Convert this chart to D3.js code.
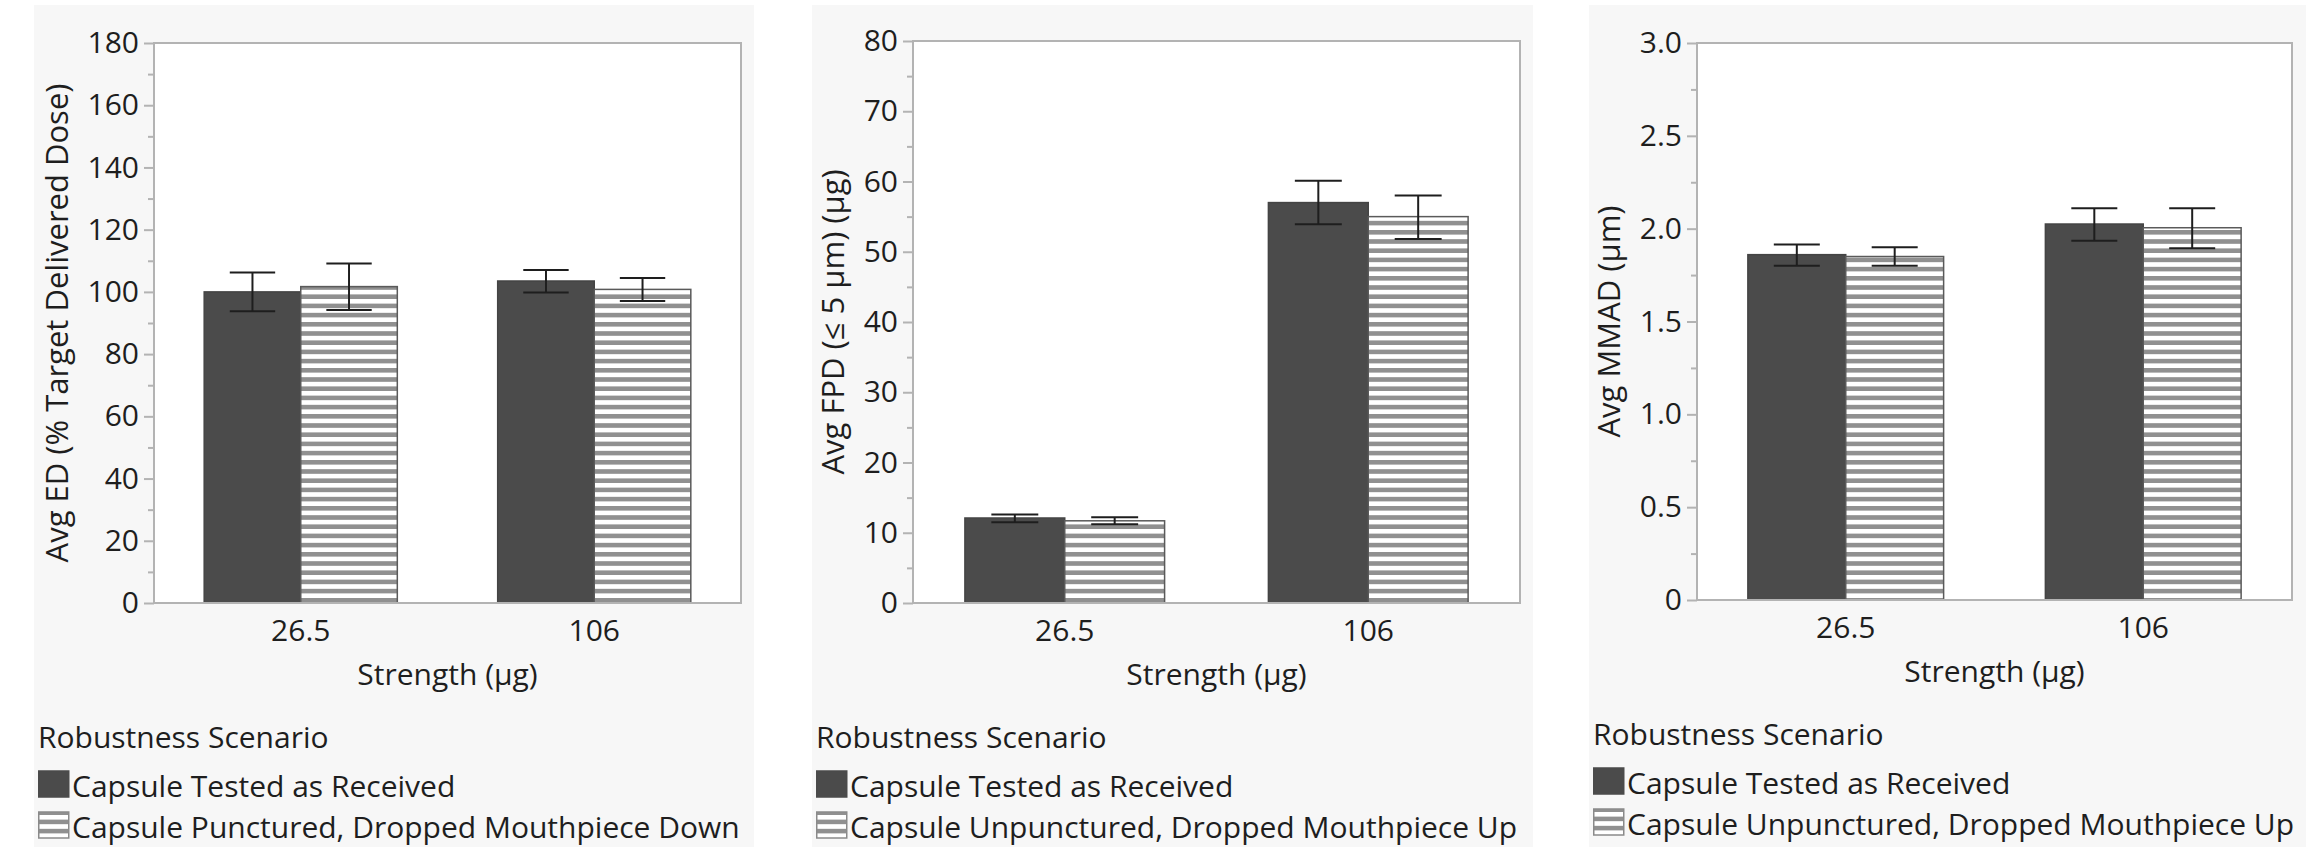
<!DOCTYPE html>
<html>
<head>
<meta charset="utf-8">
<script src="https://cdn.jsdelivr.net/npm/d3@7"></script>
<style>
	body { margin: 0; background: #ffffff; }
	svg { display: block; }
	text { font-family: "Open Sans", "Noto Sans", sans-serif; fill: #1e1e1e; }
</style>
</head>
<body>
<svg width="2306" height="847"></svg>
<script>
var strengths = ["26.5", "106"];
var scenariosDown = ["Capsule Tested as Received", "Capsule Punctured, Dropped Mouthpiece Down"];
var scenariosUp = ["Capsule Tested as Received", "Capsule Unpunctured, Dropped Mouthpiece Up"];

// one inner array per scenario, one value per strength
var edAvg = [[100.0, 103.5], [101.7, 100.8]];
var edLow = [[93.8, 99.8], [94.2, 97.1]];
var edHigh = [[106.2, 107.0], [109.1, 104.5]];
var edTicks = [0, 20, 40, 60, 80, 100, 120, 140, 160, 180];
var edMinor = [10, 30, 50, 70, 90, 110, 130, 150, 170];

var fpdAvg = [[12.1, 57.0], [11.7, 55.0]];
var fpdLow = [[11.5, 53.9], [11.2, 51.8]];
var fpdHigh = [[12.6, 60.1], [12.2, 58.0]];
var fpdTicks = [0, 10, 20, 30, 40, 50, 60, 70, 80];
var fpdMinor = [5, 15, 25, 35, 45, 55, 65, 75];

var mmadAvg = [[1.86, 2.025], [1.85, 2.005]];
var mmadLow = [[1.80, 1.935], [1.80, 1.895]];
var mmadHigh = [[1.915, 2.11], [1.90, 2.11]];
var mmadTicks = [0, 0.5, 1.0, 1.5, 2.0, 2.5, 3.0];
var mmadMinor = [0.25, 0.75, 1.25, 1.75, 2.25, 2.75];

var DARK = "#4b4b4b";
var STRIPE = "#909090";
var FRAME = "#b3b3b3";

var panels = [
	{ avg: edAvg, low: edLow, high: edHigh, ticks: edTicks, minor: edMinor, max: 180,
	  title: "Avg ED (% Target Delivered Dose)", legend: scenariosDown,
	  bg: [34, 754], x: [154, 741], y: [43, 603], titleX: 68 },
	{ avg: fpdAvg, low: fpdLow, high: fpdHigh, ticks: fpdTicks, minor: fpdMinor, max: 80,
	  title: "Avg FPD (\u2264 5 \u00b5m) (\u00b5g)", legend: scenariosUp,
	  bg: [812, 1533], x: [913, 1520], y: [41, 603], titleX: 844 },
	{ avg: mmadAvg, low: mmadLow, high: mmadHigh, ticks: mmadTicks, minor: mmadMinor, max: 3,
	  title: "Avg MMAD (\u00b5m)", legend: scenariosUp,
	  bg: [1589, 2306], x: [1697, 2292], y: [43, 600], titleX: 1620 }
];

var svg = d3.select("svg");

var defs = svg.append("defs");
var pattern = defs.append("pattern")
	.attr("id", "stripes")
	.attr("patternUnits", "userSpaceOnUse")
	.attr("width", 8)
	.attr("height", 9.2);
pattern.append("rect")
	.attr("width", 8)
	.attr("height", 9.2)
	.attr("fill", "#ffffff");
pattern.append("rect")
	.attr("y", 0)
	.attr("width", 8)
	.attr("height", 4.6)
	.attr("fill", STRIPE);

panels.forEach(function(p) { drawPanel(p); });

function drawPanel(p) {
	var g = svg.append("g");

	// panel background
	g.append("rect")
		.attr("x", p.bg[0])
		.attr("y", 5)
		.attr("width", p.bg[1] - p.bg[0])
		.attr("height", 847 - 5)
		.attr("fill", "#f7f7f7");

	g.append("rect")
		.attr("x", p.x[0])
		.attr("y", p.y[0])
		.attr("width", p.x[1] - p.x[0])
		.attr("height", p.y[1] - p.y[0])
		.attr("fill", "#ffffff");

	var x0 = d3.scaleBand()
		.domain(strengths)
		.range(p.x)
		.paddingInner(0.342)
		.paddingOuter(0.171);

	var x1 = d3.scaleBand()
		.domain([0, 1])
		.range([0, x0.bandwidth()]);

	var y = d3.scaleLinear()
		.domain([0, p.max])
		.range([p.y[1], p.y[0]]);

	var fmt = function(d) { return d === 0 ? "0" : (p.max < 10 ? d3.format(".1f")(d) : d); };

	// minor ticks
	var minorAxis = g.append("g")
		.attr("transform", "translate(" + p.x[0] + ",0)")
		.call(d3.axisLeft(y).tickValues(p.minor).tickSize(6).tickFormat(""));
	minorAxis.select(".domain").remove();

	var yAxis = g.append("g")
		.attr("transform", "translate(" + p.x[0] + ",0)")
		.call(d3.axisLeft(y).tickValues(p.ticks).tickSize(10).tickPadding(5).tickFormat(fmt));
	yAxis.select(".domain").remove();
	yAxis.selectAll("text")
		.style("font-size", "30px")
		.attr("fill", "#1e1e1e");

	g.selectAll(".tick line")
		.attr("stroke", FRAME)
		.attr("stroke-width", 2);

	var xAxis = g.append("g")
		.attr("transform", "translate(0," + p.y[1] + ")")
		.call(d3.axisBottom(x0).tickSize(0).tickPadding(17));
	xAxis.select(".domain").remove();
	xAxis.selectAll("text")
		.style("font-size", "30px")
		.attr("fill", "#1e1e1e");

	// bars
	var groups = g.selectAll(".strength")
		.data(strengths)
		.enter().append("g")
		.attr("class", "strength")
		.attr("transform", function(d) { return "translate(" + x0(d) + ",0)"; });

	groups.selectAll("rect")
		.data(function(d, i) { return [0, 1].map(function(s) { return { s: s, v: p.avg[s][i] }; }); })
		.enter().append("rect")
		.attr("x", function(d) { return x1(d.s); })
		.attr("y", function(d) { return y(d.v); })
		.attr("width", x1.bandwidth())
		.attr("height", function(d) { return y(0) - y(d.v); })
		.attr("fill", function(d) { return d.s === 0 ? DARK : "url(#stripes)"; })
		.attr("stroke", function(d) { return d.s === 0 ? "#444444" : "#5a5a5a"; })
		.attr("stroke-width", 1.5);

	// error bars
	var capHalf = x1.bandwidth() * 0.235;
	var errs = groups.selectAll(".err")
		.data(function(d, i) { return [0, 1].map(function(s) { return { s: s, lo: p.low[s][i], hi: p.high[s][i] }; }); })
		.enter().append("g")
		.attr("class", "err")
		.attr("transform", function(d) { return "translate(" + (x1(d.s) + x1.bandwidth() / 2) + ",0)"; });

	errs.append("line")
		.attr("x1", 0).attr("x2", 0)
		.attr("y1", function(d) { return y(d.lo); })
		.attr("y2", function(d) { return y(d.hi); });
	errs.append("line")
		.attr("x1", -capHalf).attr("x2", capHalf)
		.attr("y1", function(d) { return y(d.hi); })
		.attr("y2", function(d) { return y(d.hi); });
	errs.append("line")
		.attr("x1", -capHalf).attr("x2", capHalf)
		.attr("y1", function(d) { return y(d.lo); })
		.attr("y2", function(d) { return y(d.lo); });
	errs.selectAll("line")
		.attr("stroke", "#1e1e1e")
		.attr("stroke-width", 2);

	// frame on top of the bars
	g.append("rect")
		.attr("x", p.x[0])
		.attr("y", p.y[0])
		.attr("width", p.x[1] - p.x[0])
		.attr("height", p.y[1] - p.y[0])
		.attr("fill", "none")
		.attr("stroke", FRAME)
		.attr("stroke-width", 2);

	// titles
	g.append("text")
		.attr("transform", "translate(" + p.titleX + "," + ((p.y[0] + p.y[1]) / 2) + ") rotate(-90)")
		.attr("text-anchor", "middle")
		.style("font-size", "31px")
		.text(p.title);

	g.append("text")
		.attr("x", (p.x[0] + p.x[1]) / 2)
		.attr("y", p.y[1] + 82)
		.attr("text-anchor", "middle")
		.style("font-size", "30px")
		.text("Strength (\u00b5g)");

	// legend
	var lx = p.bg[0] + 4;
	g.append("text")
		.attr("x", lx)
		.attr("y", p.y[1] + 145)
		.style("font-size", "30px")
		.text("Robustness Scenario");

	var items = g.selectAll(".legend-item")
		.data(p.legend)
		.enter().append("g")
		.attr("class", "legend-item")
		.attr("transform", function(d, i) { return "translate(" + lx + "," + (p.y[1] + 194 + i * 41) + ")"; });

	items.append("rect")
		.attr("x", 0.75)
		.attr("y", -26)
		.attr("width", 30)
		.attr("height", 26)
		.attr("fill", function(d, i) { return i === 0 ? DARK : "url(#stripes)"; })
		.attr("stroke", function(d, i) { return i === 0 ? DARK : "#8a8a8a"; })
		.attr("stroke-width", 1.5);

	items.append("text")
		.attr("x", 34)
		.attr("y", 0)
		.style("font-size", "30px")
		.text(function(d) { return d; });
}
</script>
</body>
</html>
